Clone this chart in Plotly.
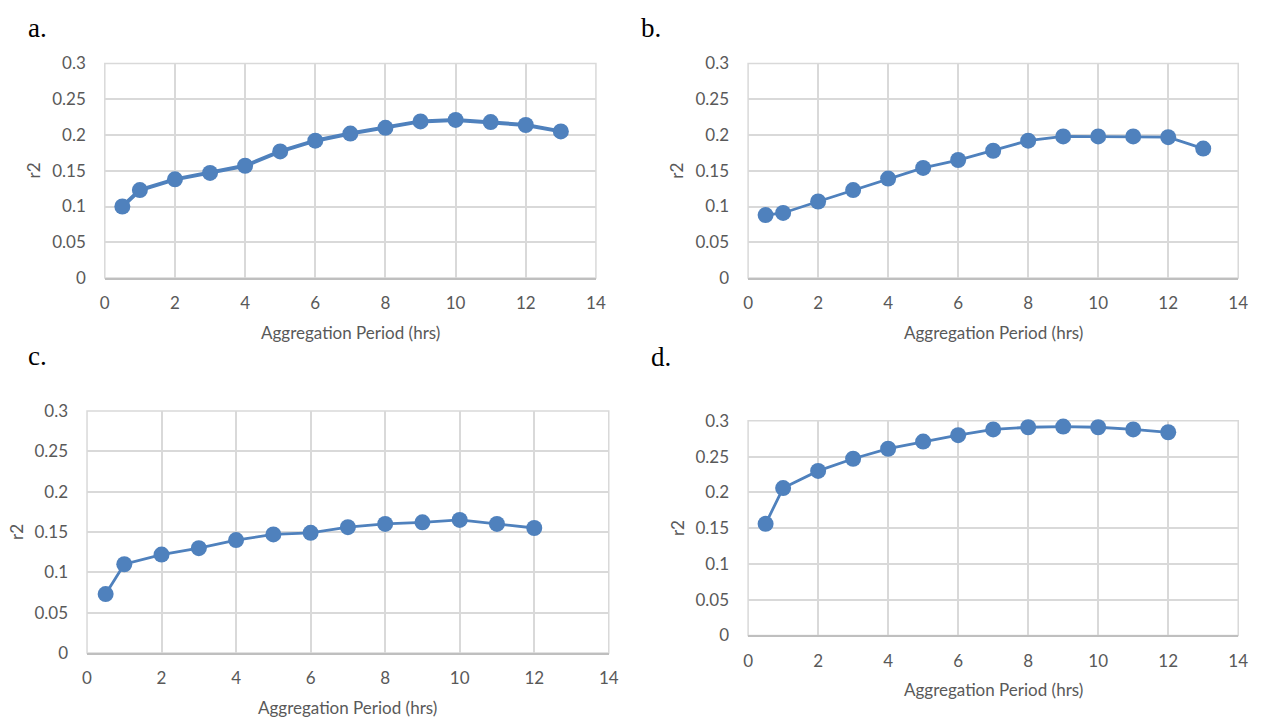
import plotly.graph_objects as go

# Aggregation periods (hours) for each panel
hours_ab = [0.5, 1, 2, 3, 4, 5, 6, 7, 8, 9, 10, 11, 12, 13]
hours_cd = [0.5, 1, 2, 3, 4, 5, 6, 7, 8, 9, 10, 11, 12]

# r2 values per panel
r2_a = [0.100, 0.123, 0.138, 0.147, 0.157, 0.177, 0.192, 0.202, 0.210, 0.219, 0.221, 0.218, 0.214, 0.205]
r2_b = [0.088, 0.091, 0.107, 0.123, 0.139, 0.154, 0.165, 0.178, 0.192, 0.198, 0.198, 0.198, 0.197, 0.181]
r2_c = [0.073, 0.110, 0.122, 0.130, 0.140, 0.147, 0.149, 0.156, 0.160, 0.162, 0.165, 0.160, 0.155]
r2_d = [0.156, 0.206, 0.230, 0.247, 0.261, 0.271, 0.280, 0.288, 0.291, 0.292, 0.291, 0.288, 0.284]

x_ticks = [0, 2, 4, 6, 8, 10, 12, 14]
y_ticks = [0, 0.05, 0.1, 0.15, 0.2, 0.25, 0.3]
y_tick_text = ["0", "0.05", "0.1", "0.15", "0.2", "0.25", "0.3"]

panel_letters = ["a.", "b.", "c.", "d."]
x_title = "Aggregation Period (hrs)"
y_title = "r2"

W, H = 1268, 728


def px(x):
    return x / W


def py(y):
    return 1 - y / H


BLUE = "#4F81BD"
GRID = "#D9D9D9"
SANS = "Lato, Open Sans, sans-serif"
TICK_FONT = dict(family=SANS, size=17, color="#595959")

# Plot-area boxes in pixels: (left, right, top, bottom)
boxes = [
    (101, 598, 54, 275),
    (752, 1248, 54, 275),
    (83, 611, 412, 661),
    (752, 1248, 422, 643),
]
series = [(hours_ab, r2_a, 4.0), (hours_ab, r2_b, 2.8), (hours_cd, r2_c, 2.8), (hours_cd, r2_d, 2.8)]
letter_pos = [(21, 17), (642, 17.5), (21, 355), (652, 356.5)]

fig = go.Figure()
layout = dict(
    width=W, height=H, margin=dict(l=0, r=0, t=0, b=0),
    paper_bgcolor="white", plot_bgcolor="white", showlegend=False,
)
annotations = []
shapes = []

for i, ((l, r, t, b), (xs, ys, lw)) in enumerate(zip(boxes, series)):
    n = "" if i == 0 else str(i + 1)
    fig.add_trace(go.Scatter(
        x=xs, y=ys, mode="lines+markers", xaxis="x" + n, yaxis="y" + n,
        line=dict(color=BLUE, width=lw),
        marker=dict(color=BLUE, size=16),
        cliponaxis=False, hoverinfo="skip",
    ))
    layout["xaxis" + n] = dict(
        domain=[px(l), px(r)], anchor="y" + n, range=[0, 14],
        tickvals=x_ticks, showgrid=True, gridcolor=GRID, gridwidth=1.5,
        zeroline=False, showline=True, linecolor="#BFBFBF", linewidth=1.5,
        ticks="", tickfont=TICK_FONT, ticklabelstandoff=9, fixedrange=True,
    )
    layout["yaxis" + n] = dict(
        domain=[py(b), py(t)], anchor="x" + n, range=[0, 0.3],
        tickvals=y_ticks, ticktext=y_tick_text, showgrid=True, gridcolor=GRID,
        gridwidth=1.5, zeroline=False, showline=False, ticks="",
        tickfont=TICK_FONT, ticklabelstandoff=18, fixedrange=True,
    )
    # frame of the plot area (left, top, right edges)
    shapes.append(dict(
        type="rect", xref=f"x{n} domain", yref=f"y{n} domain",
        x0=0, x1=1, y0=0, y1=1, line=dict(color=GRID, width=1.5), layer="below",
    ))
    # x-axis title
    annotations.append(dict(
        text=x_title, x=px((l + r) / 2), y=py(b + 56), xref="paper", yref="paper",
        showarrow=False, xanchor="center", yanchor="middle",
        font=dict(family=SANS, size=17, color="#595959"),
    ))
    # y-axis title
    annotations.append(dict(
        text=y_title, x=px(l - 72), y=py((t + b) / 2),
        xref="paper", yref="paper", showarrow=False, textangle=-90,
        xanchor="center", yanchor="middle",
        font=dict(family=SANS, size=17, color="#595959"),
    ))
    # panel letter
    lx, ly = letter_pos[i]
    annotations.append(dict(
        text=panel_letters[i], x=px(lx), y=py(ly), xref="paper", yref="paper",
        showarrow=False, xanchor="left", yanchor="middle",
        font=dict(family="Liberation Serif, Times New Roman, serif", size=27, color="black"),
    ))

layout["annotations"] = annotations
layout["shapes"] = shapes
fig.update_layout(**layout)
fig.write_html("out.html")
